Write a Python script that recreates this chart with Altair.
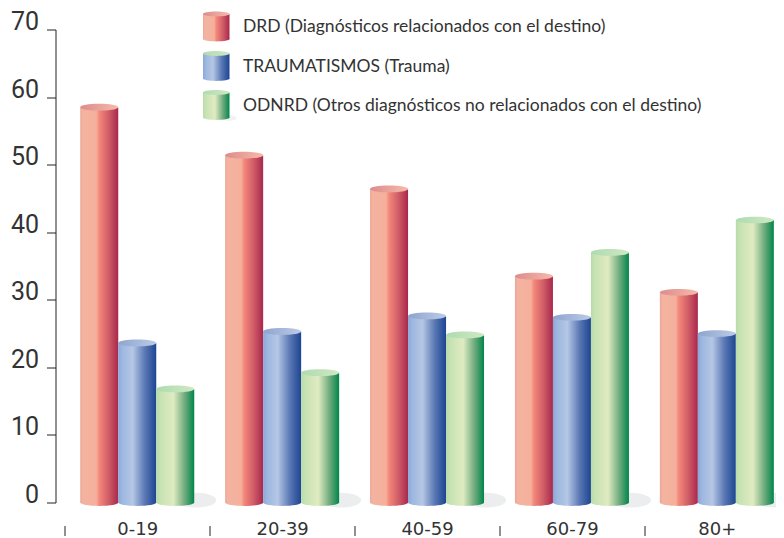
import altair as alt
import pandas as pd

ages = ["0-19", "20-39", "40-59", "60-79", "80+"]
series = ["DRD", "TRAUMATISMOS", "ODNRD"]
drd = [58.5, 51.4, 46.4, 33.5, 31.1]
trauma = [23.6, 25.3, 27.6, 27.4, 25.0]
odnrd = [16.8, 19.2, 24.8, 37.0, 41.8]
legend_labels = [
    "DRD (Diagnósticos relacionados con el destino)",
    "TRAUMATISMOS (Trauma)",
    "ODNRD (Otros diagnósticos no relacionados con el destino)",
]
y_ticks = [0, 10, 20, 30, 40, 50, 60, 70]

FONT = "Lato"
INK = "#333333"
ELLIPSE = "M-1,0 A1,0.18 0 1,1 1,0 A1,0.18 0 1,1 -1,0 Z"
SHADOW = "M0,0 A1,0.36 0 1,1 2,0 A1,0.36 0 1,1 0,0 Z"


def grad(stops):
    return alt.Gradient(
        gradient="linear", x1=0, x2=1, y1=0, y2=0,
        stops=[alt.GradientStop(offset=o, color=c) for o, c in stops],
    )


body = {
    "DRD": grad([(0, "#e9a596"), (0.06, "#f3b3a0"), (0.42, "#f5b09c"), (0.5, "#f4877a"), (0.75, "#cf5c66"), (1, "#a8284c")]),
    "TRAUMATISMOS": grad([(0, "#89a7d8"), (0.1, "#9cb7df"), (0.38, "#b5c7e5"), (0.7, "#5a78b4"), (1, "#1d4592")]),
    "ODNRD": grad([(0, "#b7dca9"), (0.1, "#c6e2b2"), (0.45, "#e0ebc2"), (0.75, "#6eab7d"), (1, "#00864a")]),
}
cap = {
    "DRD": grad([(0, "#dd8b8c"), (1, "#f6baa9")]),
    "TRAUMATISMOS": grad([(0, "#8ea4cf"), (1, "#bccbe6")]),
    "ODNRD": grad([(0, "#aedbb0"), (1, "#cfe8c4")]),
}
legend_cap = dict(cap, TRAUMATISMOS=cap["ODNRD"])

rows = []
for i, a in enumerate(ages):
    rows += [
        {"age": a, "s": "DRD", "v": drd[i]},
        {"age": a, "s": "TRAUMATISMOS", "v": trauma[i]},
        {"age": a, "s": "ODNRD", "v": odnrd[i]},
    ]
df = pd.DataFrame(rows)

xs = alt.Scale(domain=ages, range=[9.3, 733.8], paddingInner=0, paddingOuter=0)
ys = alt.Scale(domain=[0, 70], nice=False)
xo = alt.XOffset("s:N", sort=series, scale=alt.Scale(domain=series, paddingInner=0, paddingOuter=0.4066))
x_axis = alt.Axis(
    domain=False, offset=23, tickSize=10, tickBand="extent", tickOffset=1.5, tickColor="#222222",
    labelAngle=0, labelPadding=-15, labelBaseline="top", labelFont="DejaVu Sans", labelFontSize=18,
    labelColor=INK, grid=False, title=None)
y_axis = alt.Axis(
    values=y_ticks, domainColor="#222222", tickColor="#222222", tickSize=9, labelPadding=8,
    labelOffset=-8, labelFont="Roboto", labelFontSize=25, labelFontWeight=400, labelColor=INK, grid=False, title=None)
x_enc = alt.X("age:N", scale=xs, sort=ages, axis=x_axis)
y_val = alt.Y("v:Q", scale=ys, axis=y_axis)
y_foot = alt.Y("z:Q", scale=ys, axis=y_axis)

shadows = alt.Chart(df[df.s == "ODNRD"]).mark_point(
    shape=SHADOW, filled=True, size=1681, color="#ecedee", opacity=1
).encode(x=x_enc, xOffset=xo, y=y_foot).transform_calculate(z="0.35")

layers = [shadows]
for s in series:
    base = alt.Chart(df[df.s == s])
    layers.append(base.mark_point(shape=ELLIPSE, filled=True, size=1444, opacity=1, color=body[s]).encode(
        x=x_enc, xOffset=xo, y=y_foot).transform_calculate(z="0"))
    layers.append(base.mark_bar(color=body[s]).encode(x=x_enc, xOffset=xo, y=y_val))
    layers.append(base.mark_point(shape=ELLIPSE, filled=True, size=1444, opacity=1, color=cap[s]).encode(
        x=x_enc, xOffset=xo, y=y_val))

# legend rows, one per series
LX0, LX1 = 147.5, 174
mid = (LX0 + LX1) / 2
layers.append(alt.Chart(pd.DataFrame({"t": [legend_labels[2]]})).mark_point(
    shape=SHADOW, filled=True, size=225, color="#f1f2f2", opacity=1
).encode(x=alt.value(LX1 - 8), y=alt.value(88.5)))
for s, label, top in zip(series, legend_labels, [-15.5, 24, 63]):
    row = alt.Chart(pd.DataFrame({"t": [label]}))
    h = 25
    layers.append(row.mark_point(shape=ELLIPSE, filled=True, size=708, opacity=1, color=body[s]).encode(
        x=alt.value(mid), y=alt.value(top + h)))
    layers.append(row.mark_bar(color=body[s]).encode(
        x=alt.value(LX0), x2=alt.value(LX1), y=alt.value(top), y2=alt.value(top + h)))
    layers.append(row.mark_point(shape=ELLIPSE, filled=True, size=708, opacity=1, color=legend_cap[s]).encode(
        x=alt.value(mid), y=alt.value(top)))
    layers.append(row.mark_text(align="left", baseline="middle", font=FONT, fontSize=17.5, color=INK).encode(
        x=alt.value(187.5), y=alt.value(top + 13), text="t:N"))

chart = alt.layer(*layers).properties(
    width=720, height=473,
    padding={"left": 47.5, "top": 21.5, "right": 0.5, "bottom": 35.5},
    autosize=alt.AutoSizeParams(type="none"),
).configure_view(stroke=None)

chart.save("out.html", embed_options={"renderer": "svg", "actions": False})
